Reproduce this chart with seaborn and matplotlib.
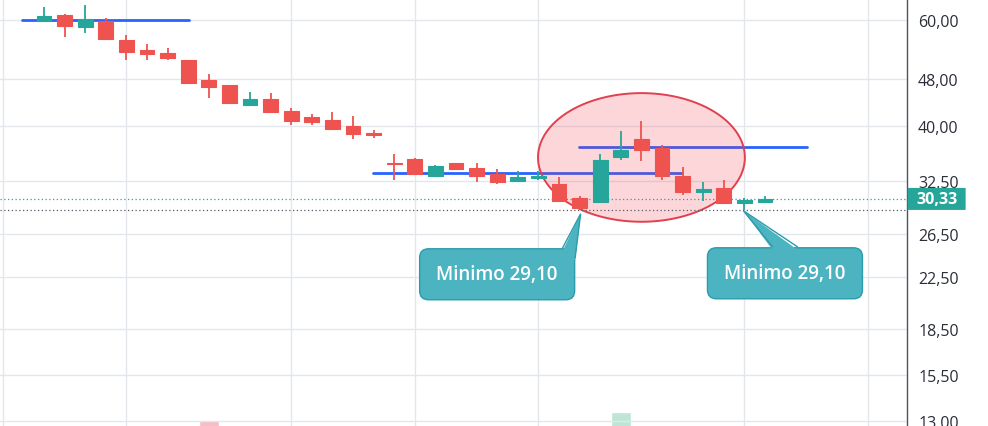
import numpy as np
import pandas as pd
import matplotlib
matplotlib.use('Agg')
import matplotlib.pyplot as plt
from matplotlib.ticker import NullLocator
from matplotlib.transforms import blended_transform_factory, Affine2D
from matplotlib.patches import FancyBboxPatch, Polygon
import seaborn as sns

# weekly candles
opens = [59.8, 61.2, 58.5, 59.7, 55.6, 53.5, 52.9, 51.5, 47.7, 46.8,
         43.4, 44.4, 42.4, 41.4, 41.0, 40.0, 39.0, 34.8, 35.3, 33.1,
         34.8, 34.1, 33.3, 32.5, 32.9, 32.1, 30.4, 30.0, 35.6, 38.1,
         36.8, 33.1, 31.2, 31.6, 29.9, 30.0]
highs = [63.0, 61.3, 63.5, 60.4, 56.7, 54.8, 53.9, 51.5, 48.8, 46.8,
         45.6, 45.4, 42.9, 42.0, 42.3, 41.6, 39.4, 36.0, 35.5, 34.5,
         34.8, 34.8, 34.0, 33.7, 33.8, 33.0, 30.7, 36.0, 39.3, 40.8,
         37.2, 34.3, 32.3, 32.6, 30.45, 30.7]
lows = [59.7, 56.3, 57.2, 55.7, 51.5, 51.5, 51.6, 47.2, 44.6, 43.7,
        43.4, 42.2, 40.2, 40.2, 39.6, 38.1, 38.3, 32.6, 33.3, 33.1,
        34.0, 32.4, 32.1, 32.5, 32.6, 30.1, 29.1, 30.0, 35.2, 35.0,
        32.6, 30.8, 30.1, 29.9, 29.1, 30.0]
closes = [61.0, 58.7, 60.2, 55.9, 53.2, 52.8, 52.0, 47.2, 46.5, 43.7,
          44.4, 42.3, 40.8, 40.7, 39.6, 38.9, 38.7, 34.7, 33.3, 34.4,
          34.0, 33.1, 32.4, 33.0, 33.1, 30.1, 29.3, 35.2, 36.6, 36.6,
          33.1, 31.2, 31.5, 29.9, 30.15, 30.33]
volumes = [40, 55, 45, 60, 70, 50, 45, 85, 106, 60,
           40, 55, 50, 45, 50, 60, 40, 55, 65, 50,
           40, 50, 45, 35, 30, 70, 80, 98, 114, 90,
           85, 70, 45, 60, 50, 30]

price_ticks = [60.0, 48.0, 40.0, 32.5, 26.5, 22.5, 18.5, 15.5, 13.0]
period_lines = [-2, 4, 12, 18, 24, 34, 40]
last_price = 30.33
min_price = 29.10

# horizontal levels drawn on the chart
level_start = [-1.07, 15.96, 25.96]
level_end = [7.04, 30.96, 37.04]
level_price = [60.0, 33.5, 36.9]

# highlighted zone
zone_center = 29.0
zone_halfwidth = 5.02
zone_low = 27.8
zone_high = 45.4

callout_idx = [26, 34]
callout_text = 'Minimo 29,10'
# box (left, bottom) and pointer shape in pixels relative to the anchor candle low
callout_box = [(-160, -90), (-37, -89)]
callout_tip = [[(-17, -38), (1, -4), (-4.5, -48)], [(28, -37), (-1, -1), (53, -37)]]

UP = '#26a69a'
DOWN = '#ef5350'
CALLOUT_FC = '#4cb4c1'
CALLOUT_EC = '#2a9cab'

sns.set_theme(style='white')
plt.rcParams['font.family'] = ['Open Sans', 'DejaVu Sans']

df = pd.DataFrame({'open': opens, 'high': highs, 'low': lows,
                   'close': closes, 'volume': volumes})
df['idx'] = np.arange(len(df))
df['up'] = df['close'] >= df['open']
df['color'] = np.where(df['up'], UP, DOWN)
df['vcolor'] = np.where(df['up'], '#bfe5d6', '#f7bfc4')

fig = plt.figure(figsize=(9.88, 4.27), dpi=100)
ax = fig.add_axes([0, 0, 907 / 988, 1])
ax_v = ax.twinx()

# volume pane, mostly below the visible area
ax_v.bar(df['idx'], df['volume'], width=0.95, color=df['vcolor'], zorder=1)
ax_v.set_ylim(100, 527)
ax_v.set_yticks([])
for s in ax_v.spines.values():
    s.set_visible(False)
ax.set_zorder(ax_v.get_zorder() + 1)
ax.patch.set_visible(False)

# candles (above the zone fill)
ax.vlines(df['idx'], df['low'], df['high'], colors=df['color'], lw=1.3, zorder=5)
body_lo = df[['open', 'close']].min(axis=1)
body_hi = df[['open', 'close']].max(axis=1)
ax.bar(df['idx'], body_hi - body_lo, bottom=body_lo, width=0.72,
       color=df['color'], edgecolor=df['color'], lw=0.8, zorder=5)

ax.set_yscale('log')
ax.set_ylim(12.76, 65.0)
ax.set_xlim(-2.136, 41.89)
ax.set_yticks(price_ticks)
ax.set_yticklabels([f'{t:.2f}'.replace('.', ',') for t in price_ticks])
ax.yaxis.set_minor_locator(NullLocator())
ax.yaxis.tick_right()
ax.set_xticks(period_lines)
ax.set_xticklabels([])
ax.tick_params(axis='x', length=0)
ax.tick_params(axis='y', length=0, pad=8, labelsize=11.5, labelcolor='#2a2e39')
ax.grid(True, color='#e3e7ec', lw=1)
for name, s in ax.spines.items():
    s.set_visible(name == 'right')
ax.spines['right'].set_color('#50535e')
ax.spines['right'].set_linewidth(1)

# price lines
ax.axhline(last_price, color=UP, lw=0.9, ls=(0, (1, 2)), zorder=4.5)
ax.axhline(min_price, color='#555a66', lw=0.9, ls=(0, (1, 2)), zorder=4.5)

# levels
for s, e, p in zip(level_start, level_end, level_price):
    ax.plot([s, e], [p, p], color='#2962ff', lw=2.0, solid_capstyle='round', zorder=3)

# ellipse zone (ellipse in log-price space)
t = np.linspace(0, 2 * np.pi, 300)
lmid = (np.log(zone_low) + np.log(zone_high)) / 2
lrad = (np.log(zone_high) - np.log(zone_low)) / 2
ax.fill(zone_center + zone_halfwidth * np.cos(t), np.exp(lmid + lrad * np.sin(t)),
        fc=(0.949, 0.212, 0.271, 0.2), ec='#e0404f', lw=1.4, zorder=4)

# callouts, drawn in pixels around the anchor point
for i, (bx, by), tip in zip(callout_idx, callout_box, callout_tip):
    ox, oy = ax.transData.transform((i, min_price))
    tr_px = Affine2D().translate(ox, oy)
    box = FancyBboxPatch((bx, by), 155, 51, boxstyle='round,pad=0,rounding_size=9',
                         fc=CALLOUT_FC, ec=CALLOUT_EC, lw=1.0, transform=tr_px,
                         zorder=6, clip_on=False)
    ax.add_patch(box)
    (x0, y0), (xt, yt), (x1, y1) = tip
    ax.add_patch(Polygon([(x0, y0 - 3), (xt, yt), (x1, y1 - 3)], closed=True,
                         fc=CALLOUT_FC, ec='none', transform=tr_px, zorder=6.1,
                         clip_on=False))
    ax.plot([x0, xt, x1], [y0, yt, y1], color=CALLOUT_EC, lw=1.0, transform=tr_px,
            zorder=6.2, clip_on=False, solid_joinstyle='miter')
    ax.text(bx + 77.5, by + 25.5, callout_text, transform=tr_px, ha='center', va='center',
            color='white', fontsize=13.5, fontweight='semibold', zorder=6.3)

# last price tag on the scale
tr = blended_transform_factory(ax.transAxes, ax.transData)
hh = np.exp(11 / 262.2)
tag = FancyBboxPatch((1.0007, last_price / hh), 58 / 907, last_price * hh - last_price / hh,
                     boxstyle='round,pad=0,rounding_size=0.003', fc=UP, ec='none',
                     transform=tr, clip_on=False, zorder=7, mutation_aspect=1)
ax.add_patch(tag)
ax.text(1.0007 + 29 / 907, last_price, f'{last_price:.2f}'.replace('.', ','), transform=tr,
        ha='center', va='center', color='white', fontsize=11.5, fontweight='bold',
        clip_on=False, zorder=8)

fig.savefig('out.png', dpi=100)
